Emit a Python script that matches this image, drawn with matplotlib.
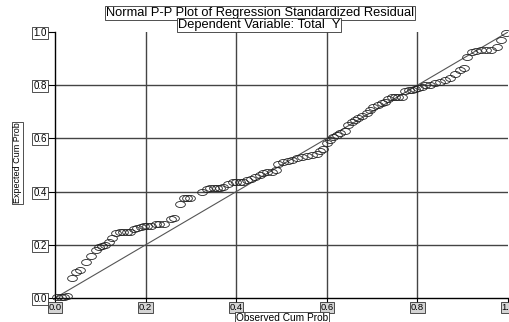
import matplotlib
matplotlib.use("Agg")
import matplotlib.pyplot as plt
from matplotlib.path import Path
import numpy as np

# observed / expected cumulative probabilities
observed = [0.005, 0.012, 0.019, 0.027, 0.037, 0.047, 0.055, 0.068, 0.079, 0.090,
            0.097, 0.104, 0.111, 0.119, 0.126, 0.135, 0.144, 0.151, 0.158, 0.166,
            0.174, 0.181, 0.190, 0.197, 0.204, 0.211, 0.222, 0.230, 0.240, 0.255,
            0.262, 0.276, 0.284, 0.291, 0.298, 0.324, 0.336, 0.343, 0.350, 0.357,
            0.364, 0.371, 0.382, 0.393, 0.400, 0.408, 0.415, 0.424, 0.432, 0.442,
            0.453, 0.460, 0.468, 0.479, 0.487, 0.492, 0.503, 0.514, 0.523, 0.534,
            0.545, 0.556, 0.567, 0.578, 0.585, 0.592, 0.600, 0.607, 0.614, 0.622,
            0.629, 0.640, 0.647, 0.655, 0.662, 0.669, 0.677, 0.689, 0.696, 0.703,
            0.713, 0.722, 0.729, 0.735, 0.744, 0.751, 0.758, 0.766, 0.773, 0.781,
            0.788, 0.795, 0.802, 0.810, 0.817, 0.828, 0.839, 0.850, 0.861, 0.872,
            0.883, 0.894, 0.902, 0.909, 0.920, 0.930, 0.941, 0.952, 0.963, 0.976,
            0.984, 0.996]
expected = [0.004, 0.005, 0.005, 0.008, 0.075, 0.098, 0.105, 0.135, 0.158, 0.180,
            0.190, 0.195, 0.200, 0.210, 0.225, 0.244, 0.248, 0.248, 0.248, 0.248,
            0.260, 0.263, 0.267, 0.270, 0.270, 0.272, 0.278, 0.278, 0.279, 0.298,
            0.300, 0.353, 0.377, 0.377, 0.377, 0.400, 0.410, 0.413, 0.415, 0.415,
            0.415, 0.418, 0.428, 0.437, 0.437, 0.437, 0.437, 0.442, 0.446, 0.454,
            0.462, 0.470, 0.475, 0.475, 0.480, 0.503, 0.510, 0.515, 0.520, 0.526,
            0.531, 0.535, 0.537, 0.543, 0.552, 0.560, 0.584, 0.594, 0.604, 0.612,
            0.620, 0.627, 0.650, 0.663, 0.669, 0.675, 0.684, 0.694, 0.706, 0.720,
            0.726, 0.734, 0.738, 0.750, 0.754, 0.757, 0.757, 0.757, 0.780, 0.782,
            0.782, 0.785, 0.788, 0.794, 0.799, 0.801, 0.807, 0.813, 0.820, 0.826,
            0.841, 0.856, 0.866, 0.905, 0.925, 0.930, 0.932, 0.932, 0.932, 0.945,
            0.970, 0.998]
ticks = [0.0, 0.2, 0.4, 0.6, 0.8, 1.0]
tick_labels = ["0.0", "0.2", "0.4", "0.6", "0.8", "1.0"]

plt.rcParams['font.family'] = ['Liberation Sans', 'DejaVu Sans']

fig = plt.figure(figsize=(5.1, 3.22), dpi=100)
ax = fig.add_axes([0.108, 0.0745, 0.888, 0.826])

# flat ellipse marker like the SPSS open circles
t = np.linspace(0, 2 * np.pi, 40)
ellipse = Path(np.column_stack([np.cos(t), 0.62 * np.sin(t)]), closed=True)

for v in ticks[1:-1]:
    ax.axvline(v, color='#444444', lw=1.0, zorder=1)
    ax.axhline(v, color='#444444', lw=1.0, zorder=1)

ax.plot([0, 1], [0, 1], color='#555555', lw=0.8, zorder=2)
ax.plot(observed, expected, linestyle='none', marker=ellipse, markersize=7,
        markerfacecolor='none', markeredgecolor='#222222', markeredgewidth=0.6,
        clip_on=False, zorder=3)

ax.set_xlim(0, 1)
ax.set_ylim(0, 1)
for s in ['top', 'right']:
    ax.spines[s].set_visible(False)
for s in ['left', 'bottom']:
    ax.spines[s].set_color('black')
    ax.spines[s].set_linewidth(1.0)

ax.set_xticks(ticks)
ax.set_xticklabels(tick_labels)
ax.set_yticks(ticks)
ax.set_yticklabels(tick_labels)
ax.tick_params(direction='out', length=5, width=0.8, labelsize=7, pad=1)
ax.tick_params(axis='x', length=3.5, pad=0, labelsize=6.8)
for lbl in ax.get_xticklabels():
    lbl.set_bbox(dict(facecolor='#d4d4d4', edgecolor='#333333', lw=0.6, pad=0.5))
for lbl in ax.get_yticklabels():
    lbl.set_bbox(dict(facecolor='white', edgecolor='#333333', lw=0.6, pad=0.8))

box = dict(facecolor='white', edgecolor='#333333', lw=0.6, pad=0.5)
fig.text(0.553, 0.013, 'Observed Cum Prob', ha='center', va='center',
         fontsize=7.3, bbox=box)
fig.text(0.034, 0.494, 'Expected Cum Prob', ha='center', va='center',
         fontsize=6.5, rotation=90, bbox=box)

fig.text(0.51, 0.96, 'Normal P-P Plot of Regression Standardized Residual',
         ha='center', va='center', fontsize=9.3, bbox=box)
fig.text(0.508, 0.922, 'Dependent Variable: Total  Y',
         ha='center', va='center', fontsize=9.3, bbox=box)

fig.savefig('out.png', dpi=100)
